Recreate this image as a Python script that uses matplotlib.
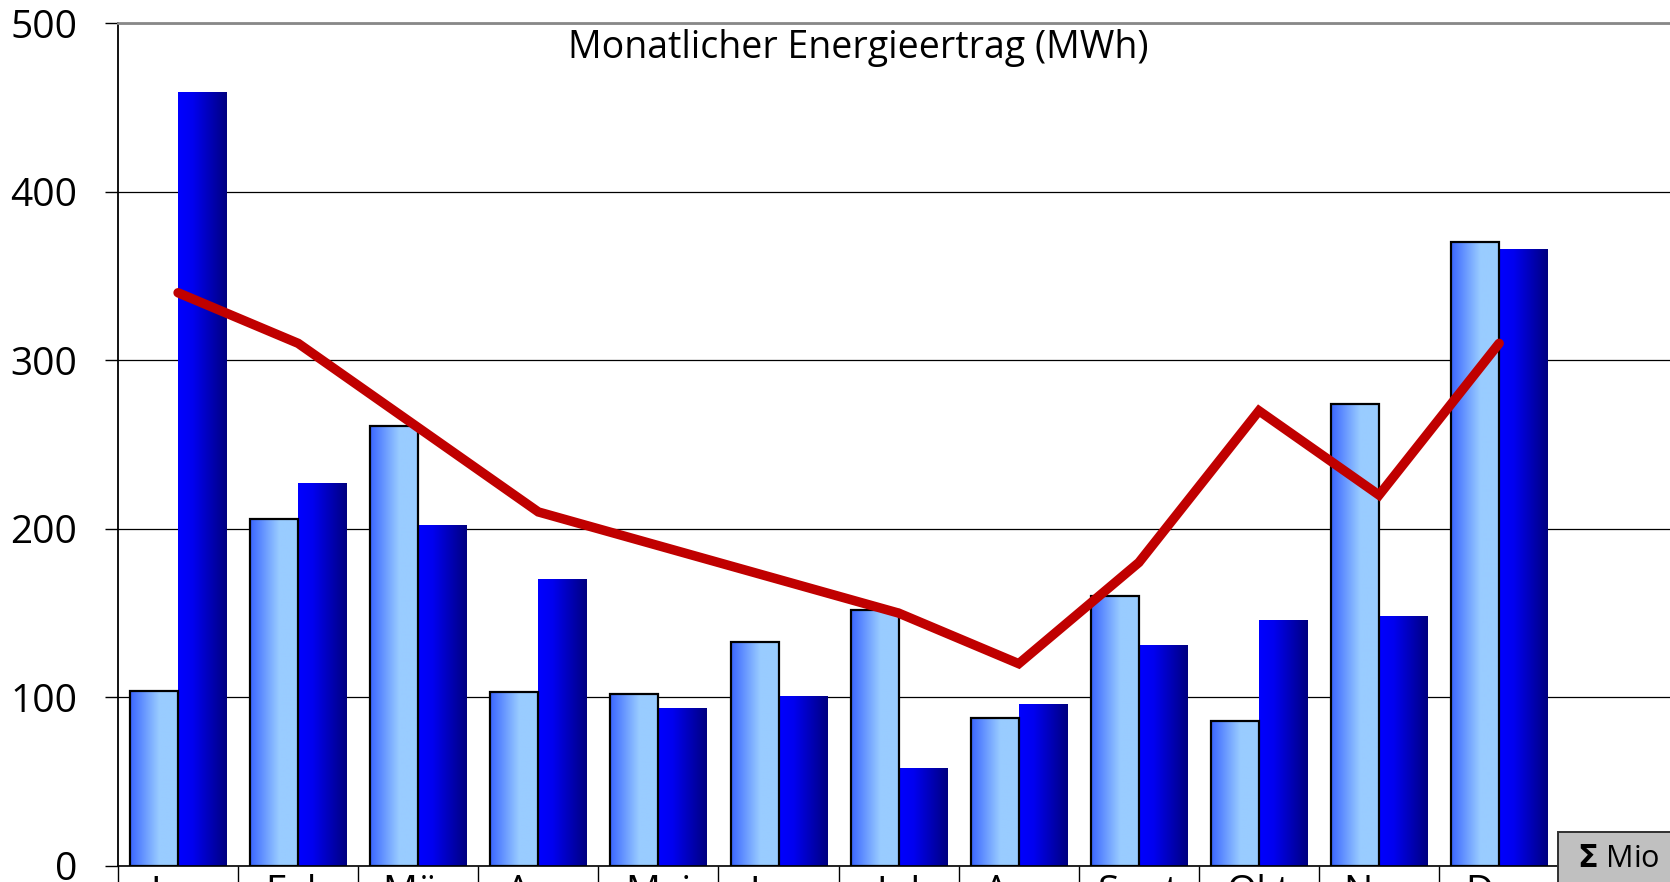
import numpy as np
import matplotlib
matplotlib.use("Agg")
import matplotlib.pyplot as plt
from matplotlib.colors import LinearSegmentedColormap
from matplotlib.patches import Rectangle
import matplotlib.transforms as mtransforms

plt.rcParams['font.family'] = ['Open Sans', 'DejaVu Sans']

months = ["Jan", "Feb", "Mär", "Apr", "Mai", "Jun", "Jul", "Aug", "Sept", "Okt", "Nov", "Dez"]
ertrag_a = [104, 206, 261, 103, 102, 133, 152, 88, 160, 86, 274, 370]
ertrag_b = [459, 227, 202, 170, 94, 101, 58, 96, 131, 146, 148, 366]
soll = [340, 310, 260, 210, 190, 170, 150, 120, 180, 270, 220, 310]
yticks = [0, 100, 200, 300, 400, 500]

light = LinearSegmentedColormap.from_list("light", [(0, "#3A66FF"), (0.6, "#99CCFF"), (1, "#99CCFF")])
dark = LinearSegmentedColormap.from_list("dark", [(0, "#0000FF"), (0.3, "#0000F0"), (1, "#000080")])

W, H = 1670, 882
fig = plt.figure(figsize=(W / 100, H / 100), dpi=100)
ax = fig.add_axes([118 / W, 16 / H, (W - 118) / W, (866 - 23) / H])

x = np.arange(len(months))
bw = 0.4
bars_a = ax.bar(x - bw / 2, ertrag_a, bw, facecolor="none", edgecolor="black", linewidth=1.6, zorder=3)
bars_b = ax.bar(x + bw / 2, ertrag_b, bw, facecolor="none", edgecolor="none", zorder=3)


def fill_gradient(bars, cmap):
    grad = np.linspace(0, 1, 256).reshape(1, -1)
    for b in bars:
        x0, y0, w, h = b.get_x(), b.get_y(), b.get_width(), b.get_height()
        im = ax.imshow(grad, extent=[x0, x0 + w, y0, y0 + h], cmap=cmap,
                       aspect="auto", zorder=2.5, interpolation="bilinear")
        im.set_clip_path(b)


fill_gradient(bars_a, light)
fill_gradient(bars_b, dark)

ax.plot(x, soll, color="#C00000", linewidth=6.8, solid_capstyle="round",
        solid_joinstyle="miter", zorder=4)

ax.set_xlim(-0.5, -0.5 + (W - 118) / 120.1)
ax.set_ylim(0, 500)

ax.set_yticks(yticks)
ax.set_yticklabels([str(v) for v in yticks], fontsize=28)
ax.tick_params(axis="y", length=9.5, width=1, color="black", pad=20)
ax.yaxis.grid(True, color="black", linewidth=0.9, zorder=1)
ax.set_axisbelow(True)

ax.set_xticks(np.arange(-0.5, 12.5, 1.0))
ax.set_xticklabels([])
ax.set_xticks(x, minor=True)
ax.set_xticklabels(months, minor=True, fontsize=28)
ax.tick_params(axis="x", which="major", length=14, width=1, color="black")
ax.tick_params(axis="x", which="minor", length=0, pad=6)

ax.spines["right"].set_visible(False)
ax.spines["top"].set_color("#888888")
ax.spines["top"].set_linewidth(2)
ax.spines["left"].set_linewidth(1.3)
ax.spines["bottom"].set_linewidth(1.2)

# Summenfeld rechts unten
trans = mtransforms.blended_transform_factory(ax.transData, ax.transAxes)
ax.add_patch(Rectangle((11.49, -0.05), 1.5, 0.09, transform=trans, facecolor="#C0C0C0",
                       edgecolor="#303030", linewidth=1.4, clip_on=False, zorder=5))
ax.text(11.65, 0.008, r"$\mathbf{\Sigma}$ Mio", transform=trans, fontsize=22,
        va="center", ha="left", zorder=6)

fig.text(858 / W, 1 - 48 / H, "Monatlicher Energieertrag (MWh)", fontsize=27,
         ha="center", va="center")

fig.savefig("out.png", dpi=100)
